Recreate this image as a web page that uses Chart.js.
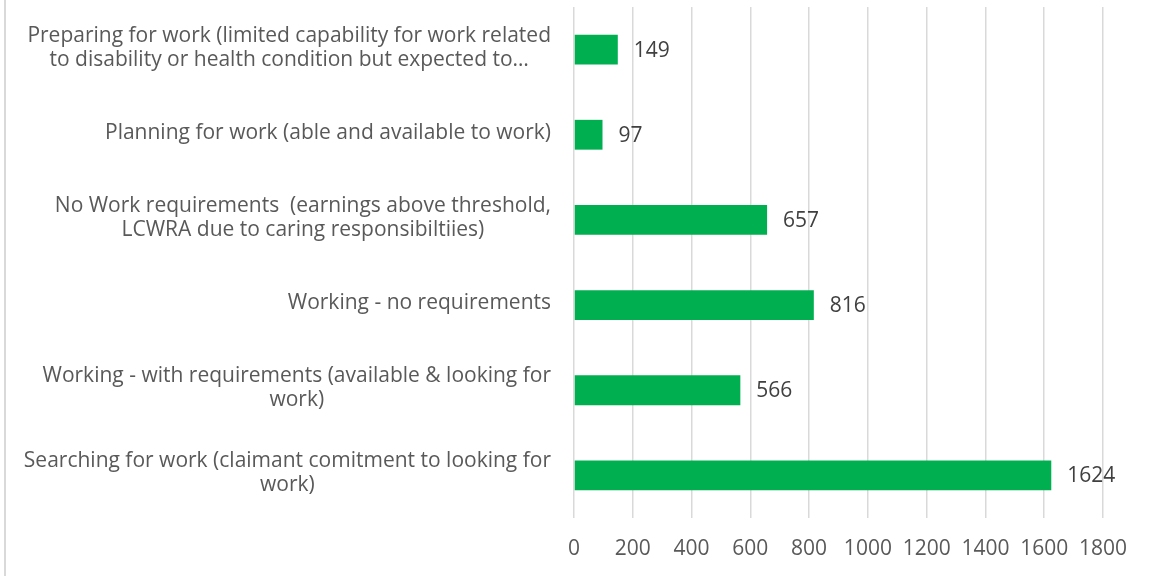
<!DOCTYPE html>
<html>
<head>
<meta charset="utf-8">
<script src="https://cdn.jsdelivr.net/npm/chart.js@4.4.1/dist/chart.umd.min.js"></script>
<style>
  html, body { margin: 0; padding: 0; background: #fff; }
  #wrap { position: relative; width: 1150px; height: 576px; }
  #edge { position: absolute; left: 4px; top: 0; width: 2px; height: 576px; background: #d9d9d9; }
  canvas { position: absolute; left: 0; top: 0; }
</style>
</head>
<body>
<div id="wrap">
  <canvas id="c" width="1150" height="576"></canvas>
  <div id="edge"></div>
</div>
<script>
const categories = [
  ["Preparing for work (limited capability for work related", "to disability or health condition but expected to\u2026"],
  ["Planning for work (able and available to work)"],
  ["No Work requirements  (earnings above threshold,", "LCWRA due to caring responsibiltiies)"],
  ["Working - no requirements"],
  ["Working - with requirements (available & looking for", "work)"],
  ["Searching for work (claimant comitment to looking for", "work)"]
];
const values = [149, 97, 657, 816, 566, 1624];
const xTicks = [0, 200, 400, 600, 800, 1000, 1200, 1400, 1600, 1800];

const FONT = "'Open Sans', sans-serif";

const labelPlugin = {
  id: 'customLabels',
  afterDatasetsDraw(chart) {
    const ctx = chart.ctx;
    const y = chart.scales.y;
    ctx.save();
    // category labels
    ctx.font = "21px " + FONT;
    ctx.fillStyle = "#595959";
    ctx.textBaseline = "middle";
    ctx.textAlign = "center";
    const rightEdge = chart.chartArea.left - 23;
    categories.forEach((lines, i) => {
      const cy = y.getPixelForValue(i);
      let w = 0;
      lines.forEach(l => { w = Math.max(w, ctx.measureText(l).width); });
      const cx = rightEdge - w / 2;
      const lh = 24;
      lines.forEach((l, j) => {
        ctx.fillText(l, cx, cy - 2 + (j - (lines.length - 1) / 2) * lh);
      });
    });
    // value labels
    ctx.font = "21px " + FONT;
    ctx.fillStyle = "#404040";
    ctx.textAlign = "left";
    const meta = chart.getDatasetMeta(0);
    meta.data.forEach((bar, i) => {
      ctx.fillText(String(values[i]), bar.x + 16, bar.y + 1);
    });
    ctx.restore();
  }
};

new Chart(document.getElementById('c'), {
  type: 'bar',
  data: {
    labels: categories,
    datasets: [{
      data: values,
      backgroundColor: '#00B050',
      borderWidth: 0,
      categoryPercentage: 1,
      barPercentage: 0.35
    }]
  },
  options: {
    indexAxis: 'y',
    responsive: false,
    animation: false,
    devicePixelRatio: 1,
    layout: { padding: { top: 7, right: 47, bottom: 0, left: 0 } },
    plugins: { legend: { display: false }, tooltip: { enabled: false } },
    scales: {
      x: {
        min: 0, max: 1800,
        afterBuildTicks(scale) { scale.ticks = xTicks.map(v => ({ value: v })); },
        afterFit(scale) { scale.height = 58; },
        grid: { color: '#d9d9d9', lineWidth: 1.5, drawTicks: false },
        border: { display: false },
        ticks: {
          color: '#595959', font: { family: FONT, size: 21 }, padding: 18,
          maxRotation: 0, autoSkip: false,
          callback: (v) => String(v)
        }
      },
      y: {
        afterFit(scale) { scale.width = 574; },
        grid: { display: false },
        border: { display: false },
        ticks: { display: false }
      }
    }
  },
  plugins: [labelPlugin]
});
</script>
</body>
</html>
